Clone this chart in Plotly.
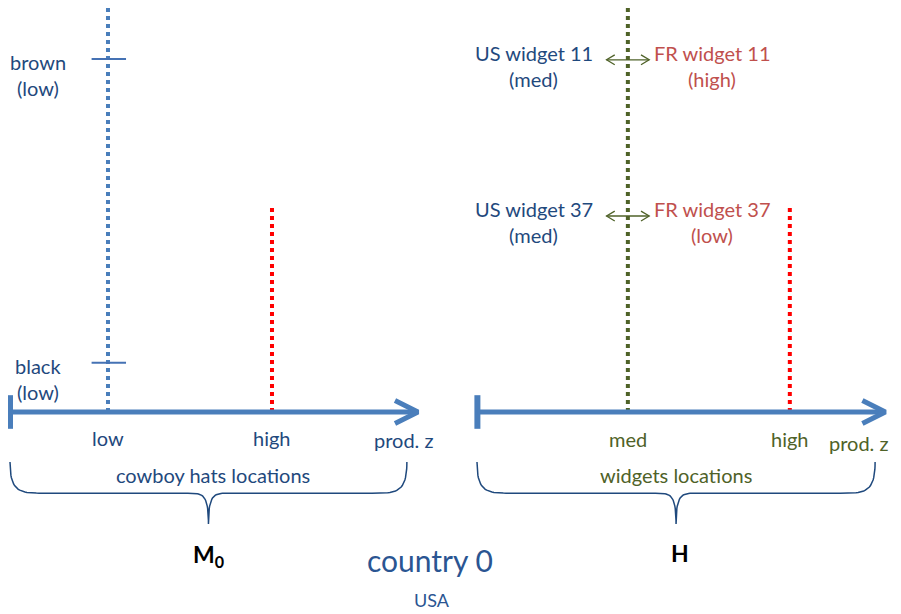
import plotly.graph_objects as go

# --- diagram values (z = productivity, y = height on the vertical guides) ---
hat_levels = ["low", "high"]
hat_z = [2.39, 6.39]
hat_names = ["brown", "black"]
hat_quality = ["low", "low"]
hat_y = [8.61, 1.20]

widget_levels = ["med", "high"]
widget_z = [3.67, 7.62]
widget_ids = ["11", "37"]
us_quality = ["med", "med"]
fr_quality = ["high", "low"]
widget_y = [8.59, 4.78]

guide_top = 10.05
high_top = 5.02
axis_len = 9.95
right_offset = 11.4

panel_titles = ["cowboy hats locations", "widgets locations"]
model_names = ["<b>M<sub>0</sub></b>", "<b>H</b>"]
country_name = "country 0"
country_sub = "USA"

BLUE = "#4a7ebb"
NAVY = "#1f497d"
OLIVE = "#4f6228"
RED_TXT = "#c0504d"
RED = "#ff0000"
FONT = "Lato"

fig = go.Figure()


def seg(xs, ys, color, width, dash=None):
    fig.add_trace(go.Scatter(
        x=xs, y=ys, mode="lines",
        line=dict(color=color, width=width, dash=dash),
        hoverinfo="skip", showlegend=False
    ))


def label(x, y, text, color, size=20, xanchor="center"):
    fig.add_annotation(
        x=x, y=y, text=text, showarrow=False, xanchor=xanchor, yanchor="middle",
        font=dict(family=FONT, size=size, color=color)
    )


def axis_arrow(x0):
    # start bar, shaft and open chevron head
    seg([x0, x0], [-0.41, 0.41], BLUE, 6)
    seg([x0, x0 + axis_len - 0.05], [0, 0], BLUE, 5)
    tip = x0 + axis_len
    seg([tip - 0.56, tip, tip - 0.56], [0.28, 0, -0.28], BLUE, 5)


def double_arrow(xc, y, half=0.52, color=OLIVE):
    seg([xc - half, xc + half], [y, y], color, 1.3)
    for s in (-1, 1):
        tip = xc + s * half
        seg([tip - s * 0.2, tip, tip - s * 0.2], [y + 0.12, y, y - 0.12], color, 1.3)


def bez(p0, p1, p2, p3, n=24):
    pts = []
    for i in range(n + 1):
        t = i / n
        a, b, c, d = (1 - t) ** 3, 3 * (1 - t) ** 2 * t, 3 * (1 - t) * t ** 2, t ** 3
        pts.append((a * p0[0] + b * p1[0] + c * p2[0] + d * p3[0],
                    a * p0[1] + b * p1[1] + c * p2[1] + d * p3[1]))
    return pts


def brace(x0, x1, color=NAVY):
    y_top, y_mid, y_tip = -1.22, -1.98, -2.73
    xm = (x0 + x1) / 2
    ce, cm = 0.85, 0.5
    pts = bez((x0, y_top), (x0, y_mid), (x0 + ce * 0.3, y_mid), (x0 + ce, y_mid))
    pts += bez((xm - cm, y_mid), (xm - cm * 0.3, y_mid), (xm, y_mid), (xm, y_tip))
    pts += bez((xm, y_tip), (xm, y_mid), (xm + cm * 0.3, y_mid), (xm + cm, y_mid))
    pts += bez((x1 - ce, y_mid), (x1 - ce * 0.3, y_mid), (x1, y_mid), (x1, y_top))
    seg([p[0] for p in pts], [p[1] for p in pts], color, 1.5)


# ---------- left panel: cowboy hats ----------
seg([hat_z[0], hat_z[0]], [0, guide_top], BLUE, 4, "4px,4px")
seg([hat_z[1], hat_z[1]], [0, high_top], RED, 4, "4px,4px")
for name, q, y in zip(hat_names, hat_quality, hat_y):
    seg([hat_z[0] - 0.4, hat_z[0] + 0.44], [y, y], "#4572b4", 2)
    label(hat_z[0] - 1.71, y - 0.07, name, NAVY)
    label(hat_z[0] - 1.71, y - 0.71, f"({q})", NAVY)
axis_arrow(0)
for lev, z in zip(hat_levels, hat_z):
    label(z, -0.64, lev, NAVY)
label(axis_len - 0.34, -0.68, "prod. z", NAVY)
brace(0, 9.68)
label(4.95, -1.54, panel_titles[0], NAVY)
label(4.84, -3.49, model_names[0], "#000000", size=23)

# ---------- right panel: widgets ----------
wz = [right_offset + z for z in widget_z]
seg([wz[0], wz[0]], [0, guide_top], OLIVE, 4, "4px,4px")
seg([wz[1], wz[1]], [0, high_top], RED, 4, "4px,4px")
for wid, uq, fq, y in zip(widget_ids, us_quality, fr_quality, widget_y):
    double_arrow(wz[0], y)
    label(wz[0] - 2.3, y + 0.17, f"US widget {wid}", NAVY)
    label(wz[0] - 2.3, y - 0.47, f"({uq})", NAVY)
    label(wz[0] + 2.05, y + 0.17, f"FR widget {wid}", RED_TXT)
    label(wz[0] + 2.05, y - 0.47, f"({fq})", RED_TXT)
axis_arrow(right_offset)
for lev, z in zip(widget_levels, wz):
    label(z, -0.66, lev, OLIVE)
label(right_offset + 10.08, -0.76, "prod. z", OLIVE, xanchor="right")
brace(right_offset - 0.01, right_offset + 9.7)
label(right_offset + 4.84, -1.54, panel_titles[1], OLIVE)
label(right_offset + 4.94, -3.44, model_names[1], "#000000", size=23)

# ---------- country caption ----------
label(10.24, -3.61, country_name, "#2a5592", size=30)
label(10.29, -4.59, country_sub, "#2a5592", size=18)

# the page body adds an 8px margin, so the canvas is 8px smaller and shifted
fig.update_layout(
    width=893, height=606,
    margin=dict(l=0, r=0, t=0, b=0),
    paper_bgcolor="white", plot_bgcolor="white",
    xaxis=dict(range=[-2 / 41, 891 / 41], visible=False, fixedrange=True),
    yaxis=dict(range=[-202 / 41, 404 / 41], visible=False, fixedrange=True),
)

fig.write_html("out.html")
